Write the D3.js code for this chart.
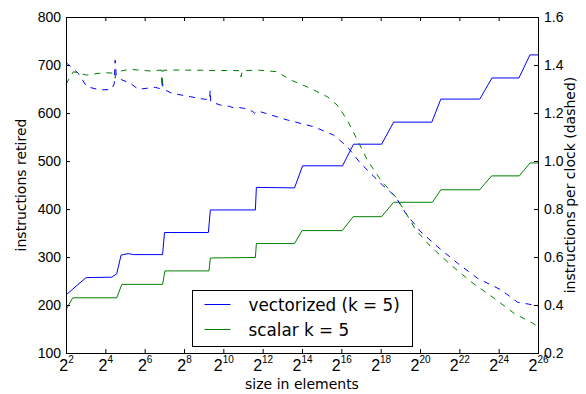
<!DOCTYPE html>
<html>
<head>
<meta charset="utf-8">
<script src="https://cdn.jsdelivr.net/npm/d3@7"></script>
<style>
  body { margin: 0; background: #fff; }
  svg { display: block; font-family: "DejaVu Sans", sans-serif; }
</style>
</head>
<body>
<script>
// x values are log2(size in elements)
var vec_retired = [[2,221],[3.02,257],[4.33,258],[4.58,265],[4.8,304],[5.17,307],[5.43,305],[6.91,305],[7.01,351],
  [9.24,351],[9.34,398],[11.63,398],[11.68,445],[13.62,444],[14.03,490],[16.06,490],[16.62,535],[18.05,535],
  [18.66,581],[20.6,581],[21.06,629],[23.04,629],[23.66,673],[25.03,673],[25.59,721],[26,721]];

var sca_retired = [[2,190],[2.34,215],[4.58,215],[4.84,243],[6.91,243],[7.03,271],[9.27,271],[9.34,298],
  [11.63,299],[11.68,328],[13.62,328],[14.0,355],[16.05,355],[16.6,384],[18.05,384],[18.66,414],[20.63,414],
  [21.06,440],[23.03,440],[23.64,469],[25.05,469],[25.6,496],[26,496]];

var vec_ipc = [[2,1.41],[2.63,1.365],[3.05,1.31],[3.73,1.296],[4.3,1.298],[4.45,1.32],[4.5,1.42],[4.55,1.36],
  [4.84,1.338],[5.26,1.324],[5.68,1.299],[6.11,1.303],[6.54,1.307],[6.88,1.299],[6.9,1.35],[6.93,1.3],
  [7.39,1.282],[8.32,1.268],[8.83,1.26],[9.3,1.255],[9.33,1.296],[9.36,1.247],[9.85,1.233],[10.3,1.228],
  [10.5,1.222],[10.7,1.224],[11.02,1.22],[11.3,1.214],[11.5,1.206],[11.6,1.198],[11.7,1.208],[11.89,1.205],
  [13.25,1.171],[14.59,1.143],[15.61,1.108],[16.3,1.06],[16.98,0.99],[18.0,0.907],[18.76,0.851],[19.27,0.782],
  [20.04,0.705],[20.89,0.643],[21.91,0.574],[22.93,0.511],[24.12,0.463],[24.97,0.411],[25.5,0.404],[26,0.396]];

var sca_ipc = [[2,1.32],[2.37,1.372],[3.05,1.358],[3.9,1.368],[4.45,1.366],[4.5,1.345],[4.55,1.37],[4.84,1.376],
  [5.26,1.382],[6.28,1.375],[6.85,1.379],[6.88,1.31],[6.93,1.378],[7.45,1.379],[8.83,1.378],[9.5,1.377],
  [10.5,1.377],[10.87,1.376],[10.9,1.35],[10.95,1.376],[11.5,1.378],[11.89,1.378],[12.74,1.372],[13.41,1.338],
  [14.43,1.303],[15.28,1.268],[15.79,1.233],[16.3,1.171],[16.81,1.088],[17.32,1.004],[18.0,0.921],[18.76,0.851],
  [19.19,0.796],[19.78,0.713],[20.55,0.643],[21.57,0.567],[22.59,0.497],[23.77,0.428],[24.79,0.365],
  [25.73,0.324],[26,0.31]];

var x_ticks = [2,4,6,8,10,12,14,16,18,20,22,24,26];
var left_ticks = [100,200,300,400,500,600,700,800];
var right_ticks = [0.2,0.4,0.6,0.8,1.0,1.2,1.4,1.6];
var legend_labels = ["vectorized (k = 5)", "scalar k = 5"];
var colors = ["#0000ff", "#008000"];

var margin = {top: 17, right: 48, bottom: 41, left: 66},
    width = 586 - margin.left - margin.right,
    height = 394 - margin.top - margin.bottom;

var x_scale = d3.scaleLog().base(2).domain([4, Math.pow(2, 26)]).range([0, width]);
var y_left = d3.scaleLinear().domain([100, 800]).range([height, 0]);
var y_right = d3.scaleLinear().domain([0.2, 1.6]).range([height, 0]);

var svg = d3.select("body").append("svg")
    .attr("width", 586)
    .attr("height", 394)
  .append("g")
    .attr("transform", "translate(" + margin.left + "," + margin.top + ")");

var line_left = d3.line()
    .x(function(d) { return x_scale(Math.pow(2, d[0])); })
    .y(function(d) { return y_left(d[1]); });
var line_right = d3.line()
    .x(function(d) { return x_scale(Math.pow(2, d[0])); })
    .y(function(d) { return y_right(d[1]); });

// solid: instructions retired
[vec_retired, sca_retired].forEach(function(s, i) {
  svg.append("path").datum(s)
      .attr("fill", "none")
      .attr("stroke", colors[i])
      .attr("stroke-width", 1)
      .attr("d", line_left);
});

// dashed: instructions per clock
[vec_ipc, sca_ipc].forEach(function(s, i) {
  svg.append("path").datum(s)
      .attr("fill", "none")
      .attr("stroke", colors[i])
      .attr("stroke-width", 1)
      .attr("stroke-dasharray", "6,6")
      .attr("d", line_right);
});

// axes, ticks pointing inward
var tick_vals = x_ticks.map(function(e) { return Math.pow(2, e); });

svg.append("g")
    .attr("transform", "translate(0," + height + ")")
    .call(d3.axisBottom(x_scale).tickValues(tick_vals).tickSizeInner(-4).tickSizeOuter(0).tickPadding(0))
    .call(function(g) {
      g.select(".domain").remove();
      g.selectAll(".tick text").each(function(d) {
        var t = d3.select(this);
        t.text(null).attr("y", 18).attr("dy", 0)
          .attr("font-size", 16).attr("fill", "#000");
        t.append("tspan").text("2");
        t.append("tspan").attr("dy", -7.7).attr("font-size", 10).text(Math.round(Math.log2(d)));
      });
    });

svg.append("g")
    .call(d3.axisTop(x_scale).tickValues(tick_vals).tickSizeInner(-4).tickSizeOuter(0).tickFormat(""))
    .call(function(g) { g.select(".domain").remove(); });

svg.append("g")
    .call(d3.axisLeft(y_left).tickValues(left_ticks).tickSizeInner(-4).tickSizeOuter(0).tickPadding(5))
    .call(function(g) {
      g.select(".domain").remove();
      g.selectAll(".tick text").attr("font-size", 14).attr("fill", "#000").attr("dy", "0.34em");
    });

svg.append("g")
    .attr("transform", "translate(" + width + ",0)")
    .call(d3.axisRight(y_right).tickValues(right_ticks).tickSizeInner(-4).tickSizeOuter(0).tickPadding(6)
      .tickFormat(d3.format(".1f")))
    .call(function(g) {
      g.select(".domain").remove();
      g.selectAll(".tick text").attr("font-size", 14).attr("fill", "#000").attr("dy", "0.34em");
    });

svg.selectAll(".tick line").attr("stroke", "#000");

// frame
svg.append("rect")
    .attr("x", 0.5).attr("y", 0.5)
    .attr("width", width).attr("height", height)
    .attr("fill", "none")
    .attr("stroke", "#000")
    .attr("stroke-width", 1);

// axis labels
svg.append("text")
    .attr("x", width / 2)
    .attr("y", height + 36)
    .attr("text-anchor", "middle")
    .attr("font-size", 14)
    .text("size in elements");

svg.append("text")
    .attr("transform", "translate(" + (26 - margin.left) + "," + (height / 2) + ") rotate(-90)")
    .attr("text-anchor", "middle")
    .attr("font-size", 14)
    .text("instructions retired");

svg.append("text")
    .attr("transform", "translate(" + (575 - margin.left) + "," + (height / 2) + ") rotate(-90)")
    .attr("text-anchor", "middle")
    .attr("font-size", 14)
    .text("instructions per clock (dashed)");

// legend
var legend = svg.append("g")
    .attr("transform", "translate(" + (192.5 - margin.left) + "," + (290.5 - margin.top) + ")");

legend.append("rect")
    .attr("width", 220).attr("height", 56)
    .attr("fill", "#fff")
    .attr("stroke", "#000")
    .attr("stroke-width", 1);

legend_labels.forEach(function(label, i) {
  var yy = 14 + i * 25;
  legend.append("line")
      .attr("x1", 12).attr("x2", 38)
      .attr("y1", yy).attr("y2", yy)
      .attr("stroke", colors[i])
      .attr("stroke-width", 1);
  legend.append("text")
      .attr("x", 56).attr("y", yy)
      .attr("dy", "0.36em")
      .attr("font-size", 16.8)
      .text(label);
});
</script>
</body>
</html>
